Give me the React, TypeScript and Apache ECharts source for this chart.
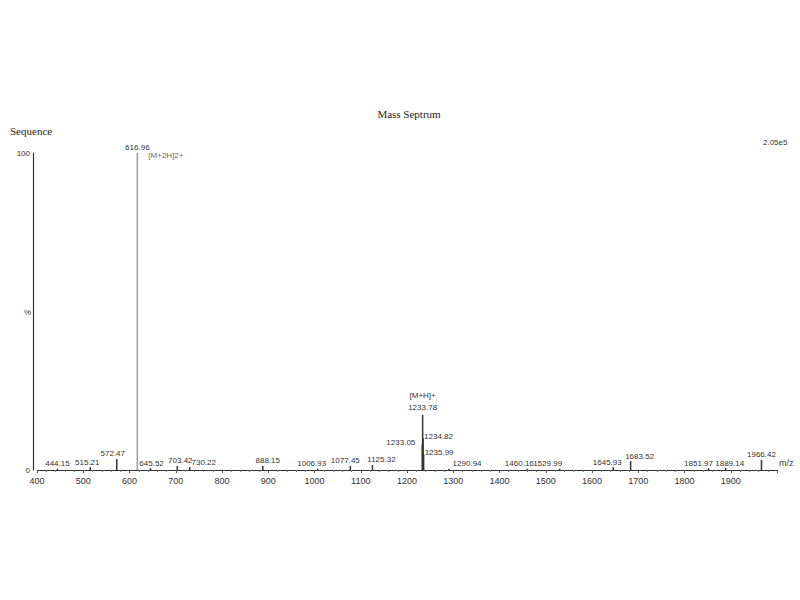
import React, { useEffect, useRef } from "react";
import * as echarts from "echarts";

const mzValues = [444.15, 515.21, 572.47, 616.96, 645.52, 703.42, 730.22, 888.15, 1006.93, 1077.45, 1125.32, 1233.05, 1233.78, 1234.82, 1235.99, 1290.94, 1460.16, 1529.99, 1645.93, 1683.52, 1851.97, 1889.14, 1966.42];
const intensities = [0.4, 0.9, 3.5, 100, 0.6, 1.3, 0.9, 1.3, 0.4, 1.3, 1.6, 8.0, 17.4, 10.0, 5.0, 0.4, 0.4, 0.4, 0.9, 2.8, 0.6, 0.6, 3.2];
const annotations = [
  { mz: 616.96, y: 100, text: "[M+2H]2+" },
];
const xTicks = [400, 500, 600, 700, 800, 900, 1000, 1100, 1200, 1300, 1400, 1500, 1600, 1700, 1800, 1900];

export default function App() {
  const ref = useRef<HTMLDivElement>(null);
  useEffect(() => {
    if (!ref.current) return;
    const chart = echarts.init(ref.current, undefined, { renderer: "svg" });
    const fmt = (p: any) => Number(p.value[0]).toFixed(2);
    const labelFor = (mz: number): any => {
      const base: any = { show: true, position: "top", distance: 1, fontSize: 8, color: "#333", fontFamily: "Liberation Sans", formatter: fmt };
      if (mz === 616.96) return { ...base, distance: 2, offset: [0, 0] };
      if (mz === 1233.05) return { ...base, distance: 0, align: "right", verticalAlign: "middle", offset: [-7, -2] };
      if (mz === 1234.82) return { ...base, distance: 0, align: "left", verticalAlign: "middle", offset: [1, -2] };
      if (mz === 1235.99) return { ...base, distance: 0, align: "left", verticalAlign: "middle", offset: [1, -2] };
      if (mz === 1233.78) return { ...base, distance: 1, formatter: "[M+H]+\n1233.78", lineHeight: 12, align: "center", offset: [0, 0] };
      if (mz === 645.52) return { ...base, offset: [1, 0] };
      if (mz === 703.42) return { ...base, offset: [3, 0] };
      if (mz === 730.22) return { ...base, offset: [14, 0] };
      if (mz === 888.15) return { ...base, offset: [5, 0] };
      if (mz === 1006.93) return { ...base, offset: [-6, 0] };
      if (mz === 1077.45) return { ...base, offset: [-5, 0] };
      if (mz === 1125.32) return { ...base, offset: [9, 0] };
      if (mz === 1290.94) return { ...base, offset: [18, 0] };
      if (mz === 1460.16) return { ...base, offset: [-8, 0] };
      if (mz === 1529.99) return { ...base, offset: [-12, 0] };
      if (mz === 1645.93) return { ...base, offset: [-6, 0] };
      if (mz === 1683.52) return { ...base, offset: [9, 0] };
      if (mz === 1851.97) return { ...base, offset: [-10, 0] };
      if (mz === 1889.14) return { ...base, offset: [4, 0] };
      if (mz === 572.47) return { ...base, offset: [-4, 0] };
      if (mz === 515.21) return { ...base, offset: [-3, 0] };
      return base;
    };
    const data = mzValues.map((mz, i) => ({
      value: [mz, intensities[i]],
      label: labelFor(mz),
      itemStyle: { color: mz === 616.96 ? "#9a9a9a" : "#333" },
    }));
    chart.setOption({
      animation: false,
      backgroundColor: "#fff",
      title: {
        text: "Mass Septrum",
        left: 404,
        top: 103,
        textAlign: "center",
        textStyle: { fontFamily: "Liberation Serif", fontSize: 11, fontWeight: "normal", color: "#222" },
      },
      graphic: [
        { type: "text", left: 10, top: 125, style: { text: "Sequence", font: "11px Liberation Serif", fill: "#222" } },
        { type: "text", left: 763, top: 138, style: { text: "2.05e5", font: "8px Liberation Sans", fill: "#333" } },
        { type: "text", left: 24, top: 308, style: { text: "%", font: "8px Liberation Sans", fill: "#333" } },
        { type: "text", left: 779, top: 458, style: { text: "m/z", font: "9px Liberation Sans", fill: "#333" } },
      ],
      grid: { left: 37, right: 23, top: 153, bottom: 130 },
      xAxis: {
        type: "value",
        min: 400,
        max: 2000,
        interval: 100,
        axisLine: { show: true, lineStyle: { color: "#333", width: 1 } },
        axisTick: { show: true, length: 3, lineStyle: { color: "#555" } },
        minorTick: { show: true, splitNumber: 5, length: 2, lineStyle: { color: "#777" } },
        splitLine: { show: false },
        axisLabel: {
          fontSize: 9,
          color: "#333",
          fontFamily: "Liberation Sans",
          margin: 6,
          formatter: (v: number) => (xTicks.includes(v) ? String(v) : ""),
        },
      },
      yAxis: {
        type: "value",
        min: 0,
        max: 100,
        interval: 100,
        offset: 4,
        axisLine: { show: true, lineStyle: { color: "#333", width: 1.2 } },
        axisTick: { show: false },
        splitLine: { show: false },
        axisLabel: { fontSize: 8, color: "#333", fontFamily: "Liberation Sans", margin: 3, verticalAlign: "middle" },
      },
      series: [
        {
          type: "bar",
          barWidth: 1.5,
          data,
          z: 3,
        },
        {
          type: "scatter",
          symbolSize: 0,
          data: annotations.map((a) => ({
            value: [a.mz, a.y],
            label: {
              show: true,
              formatter: a.text,
              position: "right",
              distance: 5,
              offset: [6, 2],
              fontSize: 8,
              color: "#333",
              fontFamily: "Liberation Sans",
            },
          })),
          silent: true,
          z: 4,
        },
      ],
    });
    return () => chart.dispose();
  }, []);
  return <div ref={ref} style={{ position: "absolute", left: 0, top: 0, width: 800, height: 600 }} />;
}
